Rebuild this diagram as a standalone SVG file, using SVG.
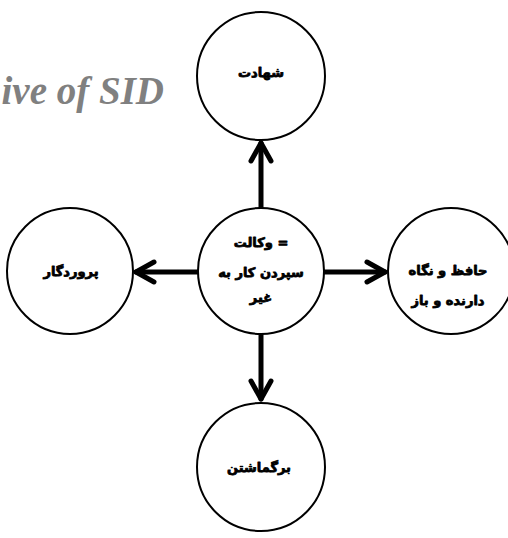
<svg xmlns="http://www.w3.org/2000/svg" width="508" height="538" viewBox="0 0 508 538">
  <style>
    .node circle { fill: #ffffff; stroke: #000000; stroke-width: 2; }
    .node text { font-family: "DejaVu Sans", "Noto Sans", sans-serif; font-weight: bold; font-size: 13px; fill: #000000; stroke: #000000; stroke-width: 0.8; stroke-linejoin: round; text-anchor: middle; }
    .conn line, .conn polyline { stroke: #000000; stroke-width: 5; fill: none; stroke-linecap: round; stroke-linejoin: round; }
    .title { font-family: "Liberation Serif", "DejaVu Serif", serif; font-weight: bold; font-style: italic; font-size: 39px; fill: #808080; text-anchor: end; }
  </style>

  <rect width="508" height="538" fill="#ffffff"/>

  <!-- heading, clipped at the left edge -->
  <text class="title" x="164" y="104">ive of SID</text>

  <!-- connectors from the central node out to each satellite -->
  <g id="connectors" class="conn">
    <line x1="261" y1="207" x2="261" y2="143"/>
    <polyline points="251,161 261,143 271,161"/>

    <line x1="261" y1="335" x2="261" y2="399"/>
    <polyline points="251,381 261,399 271,381"/>

    <line x1="198" y1="272" x2="136" y2="272"/>
    <polyline points="154,262 136,272 154,282"/>

    <line x1="324" y1="272" x2="385" y2="272"/>
    <polyline points="367,262 385,272 367,282"/>
  </g>

  <g id="node-center" class="node">
    <circle cx="261" cy="271" r="63"/>
    <text x="261" y="247">وکالت =</text>
    <text x="261" y="277">سپردن کار به</text>
    <text x="261" y="302">غیر</text>
  </g>

  <g id="node-top" class="node">
    <circle cx="261" cy="76" r="64"/>
    <text x="261" y="77">شهادت</text>
  </g>

  <g id="node-bottom" class="node">
    <circle cx="261" cy="467" r="64"/>
    <text x="259" y="472">برگماشتن</text>
  </g>

  <g id="node-left" class="node">
    <circle cx="70" cy="271" r="63"/>
    <text x="71" y="276">پروردگار</text>
  </g>

  <g id="node-right" class="node">
    <circle cx="451" cy="271" r="63"/>
    <text x="448" y="275">حافظ و نگاه</text>
    <text x="448" y="305">دارنده و باز</text>
  </g>
</svg>
